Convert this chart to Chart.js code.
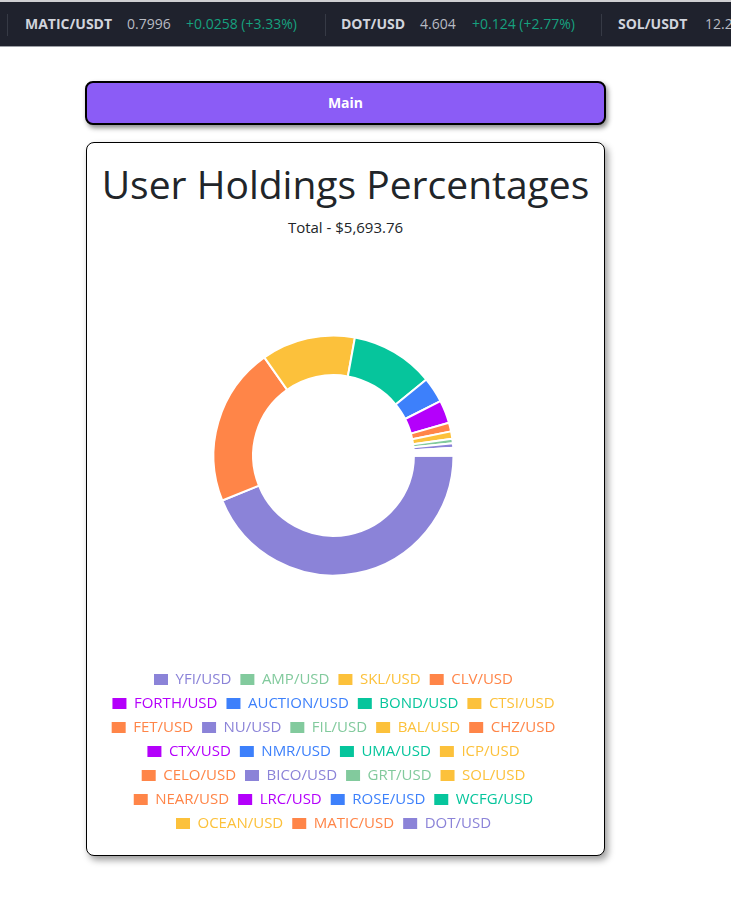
<!DOCTYPE html>
<html>
<head>
<meta charset="utf-8">
<script src="https://cdn.jsdelivr.net/npm/chart.js@4.4.0/dist/chart.umd.min.js"></script>
<style>
  html, body { margin: 0; padding: 0; background: #fff; width: 731px; height: 913px; overflow: hidden; font-family: "Open Sans", "Noto Sans", sans-serif; }
  #ticker { position: absolute; left: 0; top: 0; width: 731px; height: 44px; background: #1f222d; border-top: 2px solid #cfcfd2; border-bottom: 1px solid #9da0a6; overflow: hidden; }
  #ticker span { position: absolute; top: 0; line-height: 44px; font-size: 14px; white-space: nowrap; }
  #ticker .sym { font-weight: 700; color: #d1d4dc; }
  #ticker .px { color: #b8bbc3; }
  #ticker .chg { color: #16a17f; }
  #ticker .sep { position: absolute; top: 12px; width: 1px; height: 22px; background: #363a45; }
  #mainBtn { position: absolute; left: 85px; top: 81px; width: 517px; height: 40px; background: #8b5cf6; border: 2px solid #000; border-radius: 8px; box-shadow: 2px 3px 5px rgba(0,0,0,0.45); color: #fff; font-weight: 700; font-size: 14px; text-align: center; line-height: 40px; }
  #card { position: absolute; left: 86px; top: 142px; width: 517px; height: 712px; border: 1px solid #000; border-radius: 8px; box-shadow: 3px 4px 7px rgba(0,0,0,0.4); background: #fff; }
  #title { position: absolute; left: 86px; width: 519px; top: 164px; text-align: center; font-size: 39px; line-height: 39px; color: #212529; white-space: nowrap; }
  #total { position: absolute; left: 86px; width: 519px; top: 220px; text-align: center; font-size: 15px; line-height: 15px; color: #212529; }
  #chartWrap { position: absolute; left: 98px; top: 248px; width: 471px; height: 593px; }
</style>
</head>
<body>
<div id="ticker">
  <div class="sep" style="left:7px"></div>
  <span class="sym" style="left:25px">MATIC/USDT</span>
  <span class="px" style="left:127px">0.7996</span>
  <span class="chg" style="left:186px">+0.0258 (+3.33%)</span>
  <div class="sep" style="left:325px"></div>
  <span class="sym" style="left:341px">DOT/USD</span>
  <span class="px" style="left:420px">4.604</span>
  <span class="chg" style="left:472px">+0.124 (+2.77%)</span>
  <div class="sep" style="left:601px"></div>
  <span class="sym" style="left:618px">SOL/USDT</span>
  <span class="px" style="left:705px">12.2</span>
</div>
<div id="mainBtn">Main</div>
<div id="card"></div>
<div id="title">User Holdings Percentages</div>
<div id="total"></div>
<div id="chartWrap"><canvas id="c" width="471" height="593"></canvas></div>
<script>
// Legend order (as shown in the legend)
const labels = ["YFI/USD","AMP/USD","SKL/USD","CLV/USD","FORTH/USD","AUCTION/USD","BOND/USD","CTSI/USD",
  "FET/USD","NU/USD","FIL/USD","BAL/USD","CHZ/USD","CTX/USD","NMR/USD","UMA/USD","ICP/USD",
  "CELO/USD","BICO/USD","GRT/USD","SOL/USD","NEAR/USD","LRC/USD","ROSE/USD","WCFG/USD",
  "OCEAN/USD","MATIC/USD","DOT/USD"];
// Holdings in USD
const values = [0.96,0.8,0.9,1.0,1.2,1.4,1.6,1.8,
  2.0,2.3,2.6,2.9,3.2,3.6,4.1,5.2,6.5,
  17.4,32.4,34.8,56.9,66.4,177.1,194.5,639.0,
  719.6,1214.7,2498.9];
const palette = ["#8b83d8","#82ca9d","#fcc13b","#ff8548","#b400fb","#3d80fb","#06c59c","#fcc13b","#ff8548"];
const colors = labels.map((l, i) => palette[i % palette.length]);

const total = values.reduce((a, b) => a + b, 0);
document.getElementById('total').textContent = 'Total - $' + total.toLocaleString('en-US', {minimumFractionDigits: 2, maximumFractionDigits: 2});

// drawn clockwise from 3 o'clock in reverse order; legend reversed back
const dLabels = labels.slice().reverse();
const dValues = values.slice().reverse();
const dColors = colors.slice().reverse();

new Chart(document.getElementById('c'), {
  type: 'doughnut',
  data: {
    labels: dLabels,
    datasets: [{
      data: dValues,
      backgroundColor: dColors,
      borderColor: '#ffffff',
      borderWidth: 2
    }]
  },
  options: {
    responsive: false,
    animation: false,
    rotation: 90,
    radius: 120,
    cutout: '67%',
    layout: { padding: 0 },
    plugins: {
      tooltip: { enabled: false },
      legend: {
        position: 'bottom',
        reverse: true,
        labels: {
          boxWidth: 14,
          boxHeight: 11,
          padding: 9,
          font: { family: '"Open Sans", sans-serif', size: 15 },
          generateLabels: function(chart) {
            const items = Chart.overrides.doughnut.plugins.legend.labels.generateLabels(chart);
            items.forEach(it => { it.fontColor = it.fillStyle; it.lineWidth = 0; it.strokeStyle = it.fillStyle; });
            return items;
          }
        }
      }
    }
  }
});
</script>
</body>
</html>
